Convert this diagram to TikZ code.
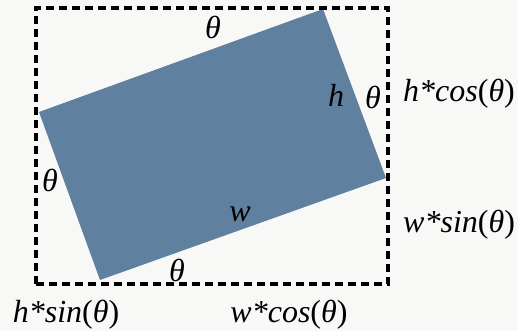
\documentclass[tikz,border=0pt]{standalone}
\usepackage{fontspec}
\newfontfamily\timesfam{Liberation Serif}
\definecolor{slab}{RGB}{96,128,160}
\definecolor{bg}{RGB}{248,248,246}
\begin{document}
\begin{tikzpicture}[x=1pt,y=-1pt,
  lbl/.style={font=\fontsize{32}{36}\selectfont\timesfam\itshape, inner sep=0pt},
  frame/.style={line width=3.6pt, dash pattern=on 8pt off 5pt},
]
\fill[bg] (0,0) rectangle (518,331);
\useasboundingbox (0,0) rectangle (518,331);
% rotated rectangle
\coordinate (L) at (39,112);
\coordinate (T) at (323,9);
\coordinate (R) at (386,178);
\coordinate (B) at (100,280);
\fill[slab] (L) -- (T) -- (R) -- (B) -- cycle;
% dashed bounding box
\coordinate (bl) at (36,284);
\coordinate (tr) at (388,8);
\draw[frame] (bl) rectangle (tr);
% labels
\node[lbl] (t1) at (213,27) {θ};
\node[lbl] (hh) at (336,95) {h};
\node[lbl] (t2) at (373,97) {θ};
\node[lbl] (t3) at (50,180) {θ};
\node[lbl] (ww) at (240,214) {w};
\node[lbl] (t4) at (177,270) {θ};
\node[lbl, anchor=west] (hc) at (403,94) {h*cos{\upshape(}θ{\upshape)}};
\node[lbl, anchor=west] (ws) at (403,225) {w*sin{\upshape(}θ{\upshape)}};
\node[lbl] (hs) at (66,315) {h*sin{\upshape(}θ{\upshape)}};
\node[lbl] (wc) at (289,315) {w*cos{\upshape(}θ{\upshape)}};
\end{tikzpicture}
\end{document}
